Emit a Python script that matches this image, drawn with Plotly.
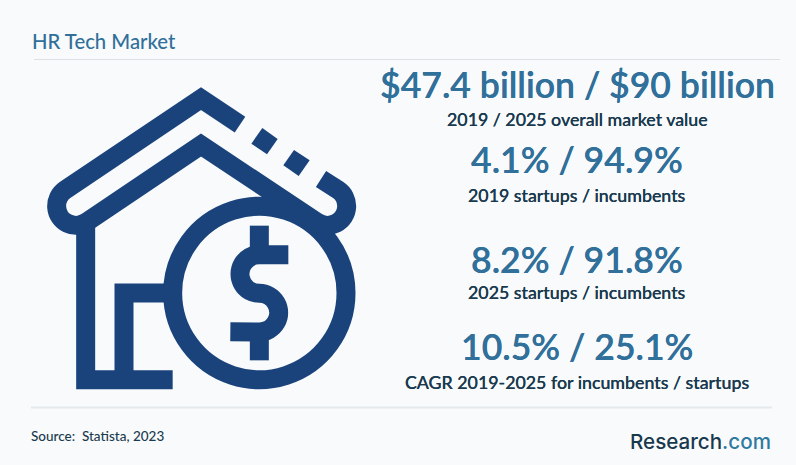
import math
import plotly.graph_objects as go

title = "HR Tech Market"
headlines = ["$47.4 billion / $90 billion", "4.1% / 94.9%", "8.2% / 91.8%", "10.5% / 25.1%"]
captions = ["2019 / 2025 overall market value", "2019 startups / incumbents",
            "2025 startups / incumbents", "CAGR 2019-2025 for incumbents / startups"]
headline_y = [84, 159, 259, 346]
caption_y = [119, 195, 292, 382]
source = "Source:  Statista, 2023"

BG = "#f8fafc"
TEAL = "#30709a"
NAVY = "#1a437c"
DARK = "#1b3a4f"
FONT = "Lato"


def P(x, y):
    """icon sketch units (3x crop) to page pixels"""
    return x / 3, 60 + y / 3


def M(x, y):
    return "M%.2f,%.2f" % P(x, y)


def L(x, y):
    return "L%.2f,%.2f" % P(x, y)


def arc(cx, cy, r, a0, a1):
    out = []
    n = max(1, math.ceil(abs(a1 - a0) / 80))
    step = math.radians((a1 - a0) / n)
    k = 4 / 3 * math.tan(step / 4)
    a = math.radians(a0)
    for _ in range(n):
        b = a + step
        c1 = P(cx + r * (math.cos(a) - k * math.sin(a)), cy + r * (math.sin(a) + k * math.cos(a)))
        c2 = P(cx + r * (math.cos(b) + k * math.sin(b)), cy + r * (math.sin(b) - k * math.cos(b)))
        e = P(cx + r * math.cos(b), cy + r * math.sin(b))
        out.append("C%.2f,%.2f %.2f,%.2f %.2f,%.2f" % (*c1, *c2, *e))
        a = b
    return " ".join(out)


icon_paths = [
    M(720, 194) + L(603, 116) + L(195, 390) + arc(228, 438, 58, 235.7, 55.7) + L(603, 255) + L(950, 486)
    + arc(982, 438, 58, 123, -57) + L(963, 357),
    M(257, 480) + L(257, 959) + L(518, 959),
    M(372, 959) + L(372, 699) + L(492, 699),
    M(865, 584) + L(778, 584) + arc(778, 642, 58, -90, -270) + arc(778, 758, 58, -90, 90) + L(691, 815),
    M(778, 497) + L(778, 570),
    M(778, 828) + L(778, 901),
    M(1038, 699) + arc(778, 699, 260, 0, 360) + "Z",
]
roof_dashes = [[(787, 204), (833, 237), (801, 283), (754, 251)],
               [(882, 270), (929, 301), (896, 348), (850, 316)]]

shapes = [dict(type="path", path=p, line=dict(color=NAVY, width=19), fillcolor="rgba(0,0,0,0)",
               xref="x", yref="y") for p in icon_paths]
for d in roof_dashes:
    path = M(*d[0]) + "".join(L(*q) for q in d[1:]) + "Z"
    shapes.append(dict(type="path", path=path, line=dict(width=0), fillcolor=NAVY, xref="x", yref="y"))
shapes.append(dict(type="line", x0=34, x1=780, y0=59.5, y1=59.5, line=dict(color="#dde1e6", width=1)))
shapes.append(dict(type="line", x0=31, x1=772, y0=407.5, y1=407.5, line=dict(color="#e6e9ec", width=2)))

ann = []


def text(x, y, s, size, color, anchor="center", weight=400, shadow=None):
    f = dict(family=FONT, size=size, color=color, weight=weight)
    if shadow:
        f["shadow"] = "0 0 %s %s" % (shadow, color)
    ann.append(dict(x=x, y=y, text=s, showarrow=False, xanchor=anchor, yanchor="middle", font=f))


text(30, 40.5, title, 20.3, TEAL, "left", 500)
for s, y in zip(headlines, headline_y):
    text(577, y, s, 35.6, TEAL, weight=600, shadow="0.6px")
for s, y in zip(captions, caption_y):
    text(577, y, s, 17.8, DARK, weight=500, shadow="0.4px")
text(29, 436, source, 13.5, DARK, "left", 500)
ann.append(dict(x=773, y=441, xanchor="right", yanchor="middle", showarrow=False,
                text="<span style='color:%s'>Research</span><span style='color:%s'>.com</span>" % ("#17384d", "#2f7a9e"),
                font=dict(family="Inter", size=20.6, weight=500)))

fig = go.Figure()
fig.update_layout(
    width=796, height=465, autosize=False,
    margin=dict(l=0, r=0, t=0, b=0),
    paper_bgcolor=BG, plot_bgcolor=BG,
    xaxis=dict(range=[0, 796], visible=False, fixedrange=True),
    yaxis=dict(range=[465, 0], visible=False, fixedrange=True),
    shapes=shapes, annotations=ann, showlegend=False,
)
fig.write_html("out.html", config=dict(displayModeBar=False),
               post_script="document.body.style.margin='0';document.body.style.background='%s';document.body.style.overflow='hidden';" % BG)
